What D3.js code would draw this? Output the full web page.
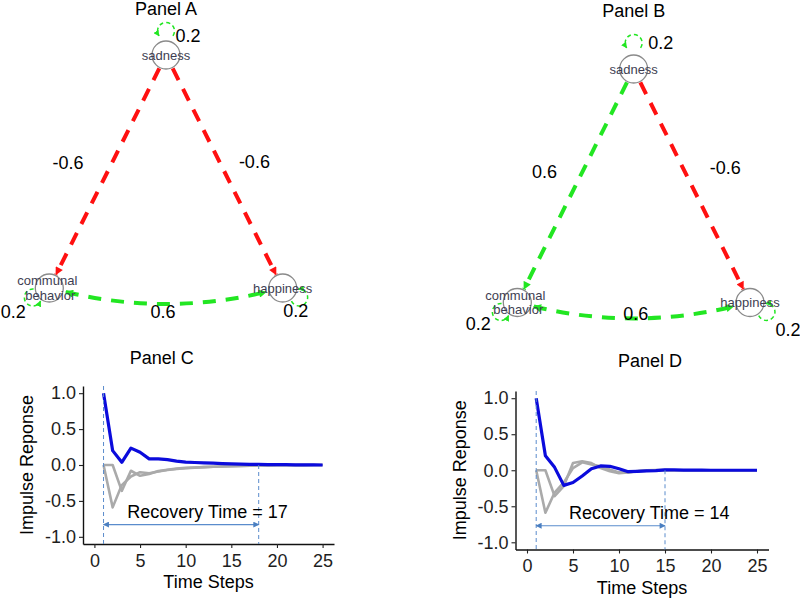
<!DOCTYPE html>
<html><head><meta charset="utf-8">
<script src="https://cdn.jsdelivr.net/npm/d3@7"></script>
<style>body{margin:0;background:#fff} svg{display:block;font-family:"Liberation Sans",Arial,sans-serif}</style>
</head><body><svg id="c" width="800" height="601"></svg>
<script>
// ---------- Network data ----------
const nodeNames = ["sadness", "communal behavior", "happiness"];
const nodeLabelLines = [["sadness"], ["communal", "behavior"], ["happiness"]];
const edgeFrom = [0, 0, 1];            // sadness->communal, sadness->happiness, communal<->happiness
const edgeTo = [1, 2, 2];
const edgeBidirectional = [false, false, true];
const panelAWeights = [-0.6, -0.6, 0.6];
const panelBWeights = [0.6, -0.6, 0.6];
const selfLoopWeights = [0.2, 0.2, 0.2];
const layoutX = [0, -1, 1];
const layoutY = [1, -1, -1];

// ---------- Impulse response data ----------
const timeSteps = d3.range(1, 26);
const panelCBlue  = [1.0, 0.2, 0.037, 0.235, 0.177, 0.085, 0.084, 0.075, 0.055, 0.04, 0.035, 0.03, 0.025, 0.02, 0.016, 0.012, 0.01, 0.008, 0.006, 0.005, 0.004, 0.003, 0.003, 0.002, 0.0];
const panelCGray1 = [0, 0, -0.36, -0.08, -0.15, -0.125, -0.085, -0.065, -0.05, -0.04, -0.035, -0.03, -0.025, -0.02, -0.015, -0.012, -0.01, -0.008, -0.006, -0.004, -0.003, -0.002, -0.002, -0.001, -0.001];
const panelCGray2 = [0, -0.59, -0.28, -0.16, -0.1, -0.115, -0.09, -0.07, -0.055, -0.045, -0.037, -0.03, -0.025, -0.02, -0.015, -0.012, -0.01, -0.008, -0.006, -0.004, -0.003, -0.002, -0.002, -0.001, -0.001];
const panelDBlue  = [1.0, 0.2, 0.04, -0.21, -0.17, -0.08, 0.02, 0.06, 0.055, 0.02, -0.02, -0.015, -0.01, -0.005, 0.005, 0.005, 0.003, 0.002, 0.001, 0, 0, 0, 0, 0, 0];
const panelDGray1 = [0, 0, -0.36, -0.22, 0.1, 0.125, 0.1, 0.03, -0.015, -0.04, -0.03, -0.01, 0, 0.003, 0.002, 0.001, 0, 0, 0, 0, 0, 0, 0, 0, 0];
const panelDGray2 = [0, -0.59, -0.31, -0.17, 0.03, 0.11, 0.08, 0.055, 0.01, -0.03, -0.03, -0.015, -0.005, 0, 0.002, 0.001, 0, 0, 0, 0, 0, 0, 0, 0, 0];
const xTicks = [0, 5, 10, 15, 20, 25];
const yTicks = [-1.0, -0.5, 0.0, 0.5, 1.0];
const recoveryC = 17, recoveryD = 14, shockStep = 1;

const svg = d3.select("#c");
svg.append("rect").attr("width", 800).attr("height", 601).attr("fill", "#fff");
const RED = "#ff1010", GREEN = "#22e622";
const defs = svg.append("defs");
function marker(id, color, w, h) {
  defs.append("marker").attr("id", id).attr("markerUnits", "userSpaceOnUse")
    .attr("viewBox", "0 0 10 10").attr("refX", 9).attr("refY", 5)
    .attr("markerWidth", w).attr("markerHeight", h).attr("orient", "auto-start-reverse")
    .append("path").attr("d", "M0,0 L10,5 L0,10 z").attr("fill", color);
}
marker("arRed", RED, 9, 8);
marker("arGreen", GREEN, 9, 8);
marker("arGreenS", GREEN, 6, 6);
marker("arBlue", "#4a7fc1", 7, 6);

// ---------- Network panels ----------
function network(cfg) {
  const x = d3.scaleLinear().domain([-1, 1]).range(cfg.xr);
  const y = d3.scaleLinear().domain([-1, 1]).range(cfg.yr);
  const g = svg.append("g");
  const P = nodeNames.map((n, i) => [x(layoutX[i]), y(layoutY[i])]);
  const cx = d3.mean(P, p => p[0]), cy = d3.mean(P, p => p[1]);
  g.append("text").attr("x", d3.mean(P, p => p[0])).attr("y", cfg.titleY)
    .attr("text-anchor", "middle").attr("font-size", 18).text(cfg.title);

  // self loops
  nodeNames.forEach((n, i) => {
    const a = cfg.loopAngle[i] * Math.PI / 180, d = cfg.loopDist[i], rl = 8.5;
    const L = [P[i][0] + d * Math.cos(a), P[i][1] + d * Math.sin(a)];
    const back = a + Math.PI, s = 55 * Math.PI / 180;
    const p0 = [L[0] + rl * Math.cos(back - s), L[1] + rl * Math.sin(back - s)];
    const p1 = [L[0] + rl * Math.cos(back + s), L[1] + rl * Math.sin(back + s)];
    g.append("path").attr("d", `M${p0[0]},${p0[1]} A${rl},${rl} 0 1 0 ${p1[0]},${p1[1]}`)
      .attr("fill", "none").attr("stroke", GREEN).attr("stroke-width", 1.5)
      .attr("stroke-dasharray", "4,3").attr("marker-end", "url(#arGreenS)");
    g.append("text").attr("x", P[i][0] + cfg.loopLab[i][0]).attr("y", P[i][1] + cfg.loopLab[i][1])
      .attr("text-anchor", "middle").attr("dominant-baseline", "central").attr("font-size", 18)
      .text(d3.format(".1f")(selfLoopWeights[i]));
  });

  // edges
  cfg.weights.forEach((w, k) => {
    const A = P[edgeFrom[k]], B = P[edgeTo[k]];
    const col = w < 0 ? RED : GREEN, mk = w < 0 ? "url(#arRed)" : "url(#arGreen)";
    const dx = B[0] - A[0], dy = B[1] - A[1], len = Math.hypot(dx, dy);
    const ux = dx / len, uy = dy / len;
    let nx = -uy, ny = ux;
    const mx = (A[0] + B[0]) / 2, my = (A[1] + B[1]) / 2;
    if ((mx - cx) * nx + (my - cy) * ny < 0) { nx = -nx; ny = -ny; }
    const path = g.append("path").attr("fill", "none").attr("stroke", col)
      .attr("stroke-width", 4).attr("stroke-dasharray", "13,10");
    if (edgeBidirectional[k]) {
      const off = 0.12 * len;
      const C = [mx + nx * off, my + ny * off];
      const sh = 17;
      const d0 = Math.hypot(C[0] - A[0], C[1] - A[1]), d1 = Math.hypot(C[0] - B[0], C[1] - B[1]);
      const s0 = [A[0] + sh * (C[0] - A[0]) / d0, A[1] + sh * (C[1] - A[1]) / d0];
      const s1 = [B[0] + sh * (C[0] - B[0]) / d1, B[1] + sh * (C[1] - B[1]) / d1];
      path.attr("d", `M${s0[0]},${s0[1]} Q${C[0]},${C[1]} ${s1[0]},${s1[1]}`)
        .attr("marker-end", mk).attr("marker-start", mk);
      const midY = 0.25 * s0[1] + 0.5 * C[1] + 0.25 * s1[1];
      const midX = 0.25 * s0[0] + 0.5 * C[0] + 0.25 * s1[0];
      g.append("text").attr("x", midX + cfg.bottomLab[0]).attr("y", midY + cfg.bottomLab[1])
        .attr("text-anchor", "middle").attr("dominant-baseline", "central").attr("font-size", 18)
        .text(d3.format(".1f")(w));
    } else {
      const sh = 15;
      path.attr("d", `M${A[0] + ux * sh},${A[1] + uy * sh} L${B[0] - ux * sh},${B[1] - uy * sh}`)
        .attr("marker-end", mk);
      const t = cfg.labT[k], o = cfg.labOff[k];
      g.append("text").attr("x", A[0] + dx * t + nx * o).attr("y", A[1] + dy * t + ny * o)
        .attr("text-anchor", "middle").attr("dominant-baseline", "central").attr("font-size", 18)
        .text(d3.format(".1f")(w).replace("−", "-"));
    }
  });

  // nodes
  nodeNames.forEach((n, i) => {
    g.append("circle").attr("cx", P[i][0]).attr("cy", P[i][1]).attr("r", 14)
      .attr("fill", "#fff").attr("fill-opacity", 0.85).attr("stroke", "#8a8a8a").attr("stroke-width", 1.3);
    const lines = nodeLabelLines[i];
    lines.forEach((ln, j) => {
      g.append("text").attr("x", P[i][0] + (lines.length > 1 ? (j === 0 ? -2 : 1) : 0))
        .attr("y", P[i][1] + (j - (lines.length - 1) / 2) * 14.5)
        .attr("text-anchor", "middle").attr("dominant-baseline", "central")
        .attr("font-size", 13).attr("fill", "#3e3e52").text(ln);
    });
  });
}

network({ title: "Panel A", titleY: 15, weights: panelAWeights,
  xr: [49.3, 282.7], yr: [288, 55],
  loopAngle: [-90, 150, 30], loopDist: [24, 19, 19],
  loopLab: [[22, -19], [-36, 24], [13, 23]],
  labT: [0.54, 0.52], labOff: [39, 31], bottomLab: [-3, 8] });
network({ title: "Panel B", titleY: 16.5, weights: panelBWeights,
  xr: [517.3, 750], yr: [302.5, 69],
  loopAngle: [-90, 150, 30], loopDist: [26, 19, 19],
  loopLab: [[27, -26], [-39, 21], [38, 27]],
  labT: [0.505, 0.495], labOff: [34, 38], bottomLab: [2, -4] });

// ---------- Impulse response panels ----------
function impulse(cfg) {
  const x = d3.scaleLinear().domain([-1.25, 26.25]).range([cfg.x0, cfg.x1]);
  const y = d3.scaleLinear().domain([-1.1, 1.1]).range([cfg.y1, cfg.y0]);
  const g = svg.append("g");
  g.append("text").attr("x", cfg.titleX).attr("y", cfg.titleY).attr("text-anchor", "middle")
    .attr("font-size", 18).text(cfg.title);

  const ax = g.append("g").attr("transform", `translate(0,${cfg.y1})`)
    .call(d3.axisBottom(x).tickValues(xTicks).tickFormat(d3.format("d")).tickSize(4).tickSizeOuter(0).tickPadding(6));
  const ay = g.append("g").attr("transform", `translate(${cfg.x0},0)`)
    .call(d3.axisLeft(y).tickValues(yTicks).tickFormat(d3.format(".1f")).tickSize(4).tickSizeOuter(0).tickPadding(3));
  [ax, ay].forEach(a => {
    a.selectAll("text").attr("font-size", 18).attr("fill", "#1e1e1e")
      .attr("font-family", '"Liberation Sans",Arial,sans-serif');
    a.select(".domain").attr("stroke", "#111").attr("stroke-width", 1.4);
    a.selectAll(".tick line").attr("stroke", "#222").attr("stroke-width", 1.1);
  });
  ay.selectAll("text").text(d => d3.format(".1f")(d).replace("−", "-"));

  g.append("text").attr("transform", `translate(${cfg.yLabX},${(cfg.y0 + cfg.y1) / 2}) rotate(-90)`)
    .attr("text-anchor", "middle").attr("font-size", 18).text("Impulse Reponse");
  g.append("text").attr("x", (cfg.x0 + cfg.x1) / 2).attr("y", cfg.xLabY)
    .attr("text-anchor", "middle").attr("font-size", 18).text("Time Steps");

  const line = d3.line().x((d, i) => x(timeSteps[i])).y(d => y(d));
  [cfg.gray1, cfg.gray2].forEach(s => g.append("path").attr("d", line(s)).attr("fill", "none")
    .attr("stroke", "#aaaaaa").attr("stroke-width", 2.6).attr("stroke-linejoin", "round"));
  g.append("path").attr("d", line(cfg.blue)).attr("fill", "none")
    .attr("stroke", "#0b0bdc").attr("stroke-width", 3.2).attr("stroke-linejoin", "round");

  const BL = "#5a8ccc";
  const rEnd = shockStep + cfg.recovery;
  g.append("line").attr("x1", x(shockStep)).attr("x2", x(shockStep)).attr("y1", cfg.y0).attr("y2", cfg.y1)
    .attr("stroke", BL).attr("stroke-width", 1).attr("stroke-dasharray", "4,3");
  g.append("line").attr("x1", x(rEnd)).attr("x2", x(rEnd)).attr("y1", y(0)).attr("y2", cfg.y1)
    .attr("stroke", BL).attr("stroke-width", 1).attr("stroke-dasharray", "4,3");
  g.append("line").attr("x1", x(shockStep)).attr("x2", x(rEnd)).attr("y1", y(cfg.arrowY)).attr("y2", y(cfg.arrowY))
    .attr("stroke", BL).attr("stroke-width", 1.2)
    .attr("marker-start", "url(#arBlue)").attr("marker-end", "url(#arBlue)");
  g.append("text").attr("x", x(cfg.textX)).attr("y", y(cfg.textY)).attr("text-anchor", "middle")
    .attr("dominant-baseline", "central").attr("font-size", 18)
    .text(`Recovery Time = ${cfg.recovery}`);
}

impulse({ title: "Panel C", titleX: 161.7, titleY: 364, x0: 83, x1: 334, y0: 386, y1: 544,
  yLabX: 33, xLabY: 588, blue: panelCBlue, gray1: panelCGray1, gray2: panelCGray2,
  recovery: recoveryC, arrowY: -0.83, textX: 12.4, textY: -0.66 });
impulse({ title: "Panel D", titleX: 650, titleY: 367, x0: 515.5, x1: 768.5, y0: 391, y1: 549.5,
  yLabX: 466, xLabY: 594, blue: panelDBlue, gray1: panelDGray1, gray2: panelDGray2,
  recovery: recoveryD, arrowY: -0.77, textX: 13.3, textY: -0.59 });
</script></body></html>
